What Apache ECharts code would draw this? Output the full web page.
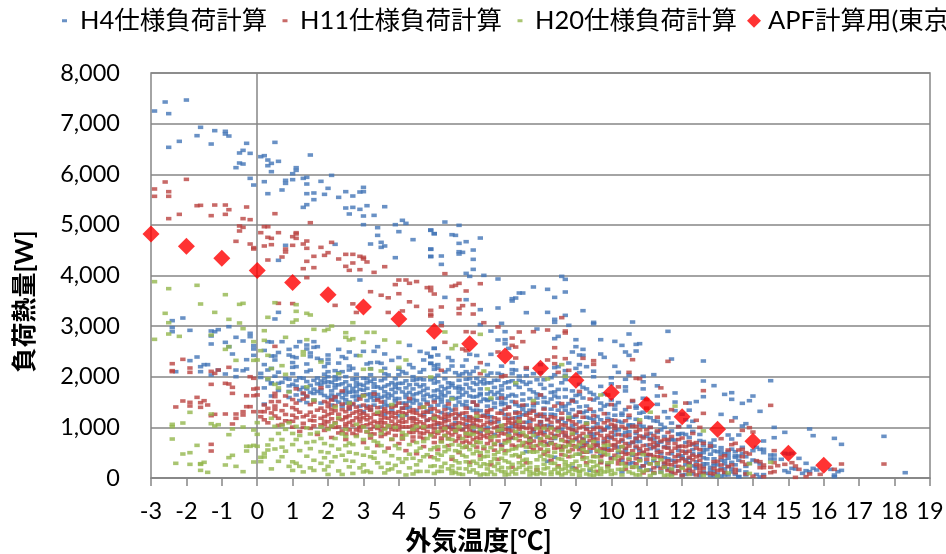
<!DOCTYPE html>
<html><head><meta charset="utf-8">
<script src="https://cdn.jsdelivr.net/npm/echarts@6/dist/echarts.min.js"></script>
<style>html,body{margin:0;padding:0;background:#fff}#c{width:946px;height:554px}</style></head>
<body><div id="c"></div>
<script>
const seriesNames=['H4仕様負荷計算','H11仕様負荷計算','H20仕様負荷計算','APF計算用(東京)'];
const xTickMin=-3, xTickMax=19, yTickMax=8000, yTickStep=1000;
const xAxisTitle='外気温度[℃]', yAxisTitle='負荷熱量[W]';
const apfPoints=[[-3,4820],[-2,4580],[-1,4340],[0,4100],[1,3860],[2,3620],[3,3380],[4,3140],[5,2900],[6,2650],[7,2410],[8,2170],[9,1930],[10,1690],[11,1450],[12,1210],[13,965],[14,725],[15,490],[16,250]];
const h4Points=[[-2.9,7249],[-2.6,7427],[-2.5,7197],[-2,7466],[-1.6,6927],[-1.7,6762],[-2.2,6650],[-2.5,6532],[-1.3,6597],[-1.2,6861],[-0.9,6848],[-0.9,6795],[-0.8,6755],[-0.3,6611],[-0.4,6472],[-0.5,6420],[-0.2,6413],[-0.5,6222],[-0.4,6202],[-0.6,6130],[-0.2,5919],[-0.1,5787],[0.5,6630],[0.2,6367],[0.1,6347],[0.3,6281],[0.4,6215],[0.6,6255],[0.3,6169],[0.4,6051],[1.1,6130],[1.1,6077],[1,6011],[1.5,6380],[1,5893],[0.8,5880],[0.8,5820],[0.2,5853],[0.7,5689],[0.3,5616],[1.3,5919],[1.4,5939],[1.4,5807],[2.1,5978],[1.8,5860],[2,5722],[2.5,5656],[2.9,5649],[3,5741],[3,5656],[2.7,5570],[2.3,5544],[1.9,5603],[1.6,5630],[1.4,5616],[1.6,5498],[1.4,5399],[1.3,5346],[2.5,5333],[2.7,5346],[2.9,5307],[3.1,5379],[3.6,5359],[2.6,5215],[3,5175],[3.3,5188],[3,5004],[3.4,4945],[3.9,5004],[4.1,5090],[4.2,5030],[4,4866],[3.4,4793],[3.2,4622],[3.5,4655],[3.5,4556],[3.6,4583],[4.4,4708],[4.9,4892],[5,4826],[4.9,4523],[4.9,4379],[3.9,4352],[2.2,4616],[0.8,4596],[0.6,4300],[2.9,3911],
[5.3,5056],[5.7,4991],[4.9,4900],[5,4826],[5.5,4806],[5.6,4793],[5.7,4635],[5.9,4668],[6.3,4740],[4.9,4517],[5.7,4470],[5.8,4457],[5.7,4424],[6.1,4503],[4.9,4372],[5.2,4385],[6.1,4319],[5.2,4220],[6.1,4121],[5.9,4042],[6,3983],[6.4,4003],[6.8,3931],[8.6,3983],[8.7,3924],[7.8,3773],[8.2,3727],[8.7,3674],[7.5,3654],[7.4,3654],[7.3,3555],[7.2,3542],[7.2,3496],[8.4,3568],[5.3,3568],[5.9,3522],[6.3,3325],[6.8,3358],[7.6,3266],[8.2,3272],[9.2,3305],[8.7,3213],[8.4,3134],[8.4,3075],[5.2,3062],[6.3,3029],[6.9,3055],[9.5,3075],[9.5,3048],[8.8,3016],[10.6,3081],[7.9,2943],[6.6,2903],[7,2890],[10.5,2844],[11.6,2897],[8.5,2798],[8.4,2752],[6.8,2726],[7,2732],[7,2653],[9,2732],[9.7,2732],[10.1,2699],[10.3,2620],[10.7,2640],[10.8,2653],[9,2594],[9.2,2541],[7.1,2561],[5,2561],[10.4,2489],[10.7,2508],[8.9,2489],[9.7,2449],[9.1,2429],[9.2,2423],[10.5,2423],[9.8,2383],[6,2443],[6.6,2443],[5.1,2429],[4.9,2397],[5.9,2331],[11.7,2350],[12.6,2311],[8.8,2271],[4.9,2265],[5.5,2318],[5.5,2212],[8.5,2199],[9.3,2199],[9,2166],[10.1,2206],[7.3,2133],[5,2219],[10.2,2087],[5.1,2166],[5.3,2094],[5.6,2080],[5.9,2100],[6.1,2107],[6.6,2074],[6.8,2068],[7.2,2061],[7.8,2061],[10.9,2008],[11.2,2041],[10.5,2034],[7.4,2015],[8.3,1982],[5.7,2031],[6,2054],[6.2,1965],
[-2.4,3108],[-2.1,3160],[-2.4,2970],[-2.4,2890],[-1.9,2917],[-1.3,2904],[-1.1,2930],[-1.2,2890],[-0.8,2989],[-1.3,2805],[-1.3,2647],[-0.2,2858],[-0.2,2792],[-0.6,2779],[-0.4,2706],[-0.9,2680],[-0.1,2614],[-0.1,2548],[-0.8,2594],[-0.7,2449],[-0.1,2423],[-0.3,2337],[-1.7,2390],[-1.9,2318],[-1.6,2199],[-1.5,2239],[-1.4,2239],[-1.6,2100],[-2.3,2100],[-1.1,2133],[-1.3,2035],[-0.6,2133],[-0.4,2120],[-0.3,2153],[-0.9,2054],[-0.6,2001],[0.1,2067],[0.3,2133],[0.4,2166],[0.5,3141],[0.6,3272],[0.3,2693],[0.4,2686],[0.7,2693],[1.2,2693],[1.6,2693],[1.4,2627],[1.6,2581],[1.7,2594],[0.9,2541],[1.1,2594],[1.4,2548],[2.3,2541],[3.4,2594],[3.3,2502],[2.6,2489],[3,2502],[0.9,2429],[1.1,2377],[1,2397],[0.5,2410],[0.4,2410],[0.5,2331],[1.5,2397],[1.7,2364],[2,2430],[2.4,2397],[2.5,2364],[2,2344],[1.8,2331],[2,2265],[1.4,2252],[1.4,2100],[1.1,2199],[1,2186],[2.6,2212],[2.7,2166],[2.6,2133],[3.2,2278],[3.4,2285],[3.5,2265],[3.8,2324],[3.1,2252],[3.6,2166],[4.4,2179],[4.7,2140],[5,2147],[4.8,2463],[4.9,2397],[5,2561],[4.9,2265],[4.7,2331],[2,2100],[2.2,2120],[2.4,2100],[2,2001],[2.2,2001],[2.5,2001],[3.7,2035],[4.1,2100],[4.2,2067],[4.4,2001],
[0.1,1985],[0.3,1940],[0.5,2011],[0.7,1890],[0.8,1965],[1,1850],[1.1,1925],[1.3,1790],[1.4,1905],[1.5,1830],[1.6,1755],[1.7,1975],[1.8,1670],[1.9,1885],[2,1810],[2.1,1720],[2.2,1935],[2.3,1650],[2.4,1860],[2.5,1775],[2.6,1695],[2.7,1950],[2.8,1815],[2.9,1610],[3,1735],[3.1,1880],[3.2,1660],[3.3,1795],[3.4,1575],[3.5,1925],[3.6,1705],[3.7,1840],[3.8,1630],[3.9,1520],[4,1765],[4.1,1870],[4.2,1590],[4.3,1690],[4.4,1480],[4.5,1945],[4.6,1805],[4.7,1545],[4.8,1655],[4.9,1420],[5,1875],[5.1,1740],[5.2,1500],[5.3,1625],[5.4,1380],[5.5,1825],[5.6,1570],[5.7,1690],[5.8,1445],[5.9,1950],[6,1780],[6.1,1335],[6.2,1610],[6.3,1510],[6.4,1860],[6.5,1240],[6.6,1705],[6.7,1395],[6.8,1575],[6.9,1820],[7,1470],[7.1,1180],[7.2,1650],[7.3,1305],[7.4,1930],[7.5,1540],[7.6,1100],[7.7,1745],[7.8,1425],[7.9,1255],[8,1850],[8.1,1590],[8.2,1040],[8.3,1360],[8.4,1700],[8.5,1480],[8.6,1160],[8.7,1945],[8.8,1275],[8.9,960],[9,1630],[9.1,1405],[9.2,1790],[9.3,1090],[9.4,870],[9.5,1540],[9.6,1215],[9.7,1350],[9.8,1660],[9.9,990],[10,790],[10.1,1440],[10.2,1120],[10.3,1280],[10.4,1720],[10.5,915],[10.6,700],[10.7,1380],[10.8,1045],[10.9,1575],[11,820],[11.1,1190],[11.2,620],[11.3,1455],[11.4,950],[11.5,1310],[11.6,740],[11.7,1085],[11.8,1680],[11.9,540],[12,1260],[12.1,860],[12.2,1020],[12.3,660],[12.4,1510],[12.5,450],
[0.6,1870],[0.9,1820],[1.2,1745],[1.5,1690],[1.8,1915],[2.1,1640],[2.4,1585],[2.7,1705],[3,1830],[3.3,1530],[3.6,1445],[3.9,1790],[4.2,1380],[4.5,1665],[4.8,1325],[5.1,1590],[5.4,1265],[5.7,1810],[6,1195],[6.3,1670],[6.6,1120],[6.9,1450],[7.2,1020],[7.5,1350],[7.8,905],[8.1,1260],[8.4,840],[8.7,1420],[9,760],[9.3,1320],[9.6,695],[9.9,1180],[10.2,610],[10.5,1030],[10.8,540],[11.1,880],[11.4,480],[11.7,760],[12,390],[12.3,1120],[12.6,640],[5.3,1420],[5.6,1180],[5.9,1060],[6.2,1340],[6.5,1550],[6.8,1010],[7.1,885],[7.4,1215],[7.7,780],[8,1115],[8.3,700],[8.6,960],[8.9,1535],[9.2,640],[9.5,870],[9.8,570],[10.1,930],[10.4,505],[10.7,790],[11,440],[11.3,650],[11.6,380],[11.9,870],[12.2,300],[12.5,740],[8.2,330],[8.9,210],[9.4,150],[9.9,260],[10.3,120],[10.8,205],[11.2,95],[11.7,160],[12.1,70],[12.4,225],[5.5,1000],[6.1,930],[6.9,660],[7.6,520],[8.4,410],[9.1,470],[9.7,320],[10.6,300],[11.5,220],
[12.6,1916],[12.9,1824],[13.2,1652],[13.4,1685],[13.4,1554],[12.6,1606],[13.7,1475],[13.9,1527],[14,1619],[14.5,1922],[14.2,1317],[13.1,1257],[13.5,1191],[13.7,1027],[13.8,1073],[14.6,1000],[14.9,902],[15.6,968],[15.7,836],[14.6,796],[16.3,783],[16.5,665],[17.7,823],[18.3,105],[14.3,731],[13.3,849],[13.6,849],[12.9,750],[13.4,770],[12.8,685],[12.8,606],[12.6,500],[12.9,533],[13.1,599],[13.1,533],[13.1,467],[13.3,520],[13.3,454],[13.5,520],[13.7,606],[13.7,487],[13.6,434],[13.5,408],[14,540],[14.1,606],[14.2,566],[14.3,566],[14.3,500],[14,355],[13.9,290],[14.1,322],[14.2,276],[14.5,454],[14.6,454],[14.5,375],[14.6,375],[14.8,369],[14.9,487],[15,474],[15.1,487],[15.3,388],[15.5,290],[15.7,191],[15.8,158],[15.4,92],[15.5,145],[15.6,125],[14.9,145],[15,112],[15.1,191],[15.2,178],[16.2,171],[16.3,59],[16.3,26],[16.4,125],[16.5,151],[14.1,70],[14.3,66],[14.2,20],[12.6,225],[12.8,150],[13,30],[13.6,25],[12.7,380],[12.9,290],[13.2,345],[13.4,180],[13.8,120]
];
// H4: further points by temperature column in the dense band
const h4Columns=[[0.2,[1780,1460]],[0.4,[1860,1620,1880]],[0.6,[1730]],[0.9,[1950,1590,1710]],[1.1,[1640,1815]],[1.2,[1980,1530]],[1.4,[1760,1600,1490]],[1.6,[1930,1670,1540]],[1.8,[1840,1480,1740]],[1.9,[1630,1960]],[2.1,[1890,1560,1440]],[2.2,[1780,1610]],[2.3,[1960,1500,1840]],[2.4,[1690,1420]],[2.5,[1900,1550,1640]],[2.6,[1830,1360,1500]],[2.7,[1610,1770,1450]],[2.8,[1960,1540,1700]],[2.9,[1850,1420,1750]],[3,[1640,1310,1970]],[3.1,[1530,1770,1420]],[3.2,[1910,1350,1590]],[3.3,[1700,1440,1860]],[3.4,[1800,1280,1650]],[3.5,[1590,1400,1770]],[3.6,[1960,1510,1260]],[3.7,[1660,1430,1580]],[3.8,[1880,1750,1340]],[3.9,[1690,1440,1960]],[4,[1570,1230,1870]],[4.1,[1700,1480,1380]],[4.2,[1920,1780,1240]],[4.3,[1840,1520,1400]],[4.4,[1640,1760,1180]],[4.5,[1530,1340,1850]],[4.6,[1960,1690,1460]],[4.7,[1840,1250,1620]],[4.8,[1770,1500,1140]],[4.9,[1940,1610,1300]],[5,[1720,1540,1200]],[5.1,[1900,1440,1060]],[5.2,[1810,1640,1290]],[5.3,[1960,1760,1150]],[5.4,[1690,1520,1020]],[5.5,[1590,1340,1870]],[5.6,[1780,1430,1090]],[5.7,[1930,1590,1260]],[5.8,[1760,1640,960]],[5.9,[1850,1510,1210]],[6,[1960,1620,1380]],[6.1,[1730,1500,1040]],[6.2,[1850,1430,1160]],[6.3,[1760,1330,920]],[6.4,[1940,1560,1240]],[6.5,[1660,1420,1000]],[6.6,[1880,1550,1210]],[6.7,[1790,1480,860]],[6.8,[1930,1690,1110]],[6.9,[1640,1330,940]],[7,[1880,1570,1250]],[7.1,[1780,1400,990]],[7.2,[1920,1510,790]],[7.3,[1620,1190,1080]],[7.4,[1790,1420,880]],[7.5,[1660,1250,1010]],[7.6,[1850,1440,1290]],[7.7,[1570,1120,720]],[7.8,[1700,1340,960]],[7.9,[1940,1480,810]],[8,[1640,1220,1050]],[8.1,[1770,1380,900]],[8.2,[1490,1160,680]],[8.3,[1830,1560,1020]],[8.4,[1620,1250,780]],[8.5,[1750,1340,950]],[8.6,[1880,1410,620]],[8.7,[1600,1090,840]],[8.8,[1470,1180,720]],[8.9,[1720,1350,1040]],[9,[1500,1210,890]],[9.1,[1850,1110,600]],[9.2,[1580,1290,780]],[9.3,[1420,980,700]],[9.4,[1690,1180,520]],[9.5,[1310,1000,810]],[9.6,[1580,1070,640]],[9.7,[1810,1150,450]],[9.8,[1420,950,720]],[9.9,[1270,1020,580]],[10,[1540,1150,400]],[10.1,[1240,850,640]],[10.2,[1490,950,500]],[10.3,[1100,730,350]],[10.4,[1350,900,570]],[10.5,[1190,680,280]],[10.6,[1510,1050,450]],[10.7,[1160,880,600]],[10.8,[1280,720,380]],[10.9,[1020,500,240]],[11,[1200,650,300]],[11.1,[1000,460,160]],[11.2,[1130,770,340]],[11.3,[900,550,230]],[11.4,[1060,710,120]],[11.5,[820,400,280]],[11.6,[1190,600,180]],[11.7,[930,480,80]],[11.8,[750,340,230]],[11.9,[1020,620,140]],[12,[880,440,60]],[12.1,[700,260,520]],[12.2,[800,390,150]],[12.3,[920,560,80]],[12.4,[650,320,190]],[12.5,[860,480,50]],[12.6,[400,120,720]],[12.7,[560,280,90]],[12.8,[470,210,50]],[12.9,[630,380,130]],[13,[520,260,80]],[13.1,[350,190,40]],[13.2,[480,110,280]],[13.3,[390,230,60]],[13.4,[570,310,120]],[13.5,[260,70,440]],[13.6,[350,150,30]],[13.8,[420,230,60]],
[1.3,[1970,1660]],[1.7,[1710,1860]],[2,[1590,1900]],[2.2,[1840,1540]],[2.5,[1480,1710]],[2.8,[1880,1620]],[3.1,[1960,1650]],[3.3,[1610,1950]],[3.6,[1810,1620]],[3.9,[1850,1570]],[4.2,[1650,1480]],[4.4,[1930,1560]],[4.7,[1730,1940]],[5,[1960,1630]],[5.2,[1560,1700]],[5.4,[1880,1790]],[5.7,[1500,1760]],[5.9,[1690,1430]],[6.1,[1880,1600]],[6.3,[1900,1640]],[6.5,[1880,1530]],[6.7,[1650,1930]],[6.9,[1500,1740]],[7.1,[1620,1900]],[7.3,[1840,1450]],[7.5,[1900,1420]],[7.7,[1890,1340]],[7.9,[1660,1580]],[8.1,[1940,1500]],[8.3,[1690,1260]],[8.5,[1590,1130]],[8.7,[1750,1340]],[8.9,[1550,1200]],[9.1,[1650,1300]],[9.3,[1760,1200]],[9.5,[1650,1150]],[9.7,[1480,930]],[9.9,[1450,800]],[10.1,[1020,1360]],[10.3,[1240,850]],[10.5,[1050,800]],[10.7,[1420,720]],[10.9,[1300,820]],[11.1,[780,580]],[11.3,[1120,700]],[11.5,[1000,620]],[11.7,[760,350]],[11.9,[860,430]],[12.1,[1150,360]],[12.3,[480,240]],[12.6,[560,280]],[12.9,[240,50]],[13.2,[180,60]],
[0.2,[2240,2520]],[0.6,[2090,2480]],[1,[2280,2060]],[1.5,[2130,2470]],[1.9,[2200,2050]],[2.3,[2270,2080]],[2.8,[2420,2050]],[3.2,[2160,2040]],[3.6,[2450,2060]],[4,[2380,2150,2040]],[4.3,[2240,2620]],[4.6,[2090,2500]],[5.1,[2240,2030]],[5.4,[2140,2380]],[5.8,[2210,2060]],[6.2,[2180,2420]],[6.5,[2240,2030]],[6.9,[2210,2040]],[7.2,[2280,2140]],[7.6,[2150,2020]],[8,[2240,2080]],[8.4,[2040,2180]],[8.7,[2120,2030]],[9.1,[2080,2240]],[9.5,[2000,2110]],[10,[1980,1860]],[10.4,[1950,1800]],[10.9,[1760,1900]],[11.3,[1820,1620]],[11.8,[1500,1330]],[12.2,[1340,1480]]];
const h11Points=[[-2.9,5709],[-2.9,5564],[-2.6,5847],[-2.5,5656],[-2.5,5564],[-2,5899],[-1.7,5379],[-1.6,5386],[-1.2,5392],[-0.9,5392],[-0.8,5300],[-0.3,5353],[-2.5,5123],[-2.2,5208],[-1.3,5182],[-0.9,5208],[-0.4,5123],[-0.2,5103],[0.5,5221],[1.5,5043],[-0.5,4978],[-0.4,4951],[-0.5,4879],[-0.6,4675],[-0.2,4622],[-0.1,4550],[-0.1,4523],[0.2,4964],[0.3,4964],[0.1,4846],[0.6,4846],[0.3,4754],[0.4,4734],[1.1,4846],[1.1,4820],[1,4767],[1.1,4734],[1.4,4681],[1.3,4622],[1,4596],[0.2,4583],[0.4,4609],[0.8,4523],[0.8,4464],[1.4,4537],[1.8,4556],[2.1,4655],[2,4451],[1.9,4398],[1.6,4379],[0.7,4365],[0.3,4306],[1.4,4280],[2.3,4326],[2.5,4418],[2.7,4418],[2.9,4379],[3,4359],[3,4326],[3.1,4267],[2.7,4247],[2.5,4181],[2.6,4102],[2.9,4115],[1.6,4155],[1.3,4135],[3.6,4174],[3.3,4062],[1.4,3957],[4,3911],[4.2,3911],
[4.3,3846],[4.5,3880],[3.9,3820],[4.8,3760],[4.9,3700],[4,3640],[3.7,3560],[4.3,3480],[4.5,3390],[4.1,3300],[3.2,3680],[3.5,3610],[2.7,3440],[2.2,3410],[1,3445],[3.7,3270],[2.8,3270],[4.9,3200],[5.3,4036],[6.3,3838],[5.7,3845],[5.6,3805],[5.5,3786],[4.9,3766],[5.9,3694],[5,3634],[5.7,3522],[5.8,3404],[5.7,3351],[6.1,3424],[5.2,3378],[4.9,3312],[4.9,3233],[5.7,3246],[6.1,3239],[6.4,3068],[6.8,2983],[5.2,3009],[8.6,3167],[5.9,2890],[6.1,2877],[7.4,2884],[7.8,2890],[8.2,2923],[8.7,2904],[8.7,2864],[7.2,2765],[7.5,2693],[5.3,2680],[7.2,2620],[7.3,2587],[8.4,2574],[5.8,2548],[5.9,2515],[6.8,2489],[7.3,2370],[8.4,2390],[8.7,2357],[9.2,2364],[8.2,2331],[9.5,2318],[9.5,2245],[10.6,2337],[11.6,2304],[6.3,2278],[8.4,2258],[7.6,2179],[8.8,2127],[5.2,2127],[8.5,2087],[10.5,2087],[6.3,2061],[7,2021],[6.9,2001],[10.7,1968],[10.8,1962],
[-2.3,1403],[-2.1,1521],[-1.9,1495],[-1.9,1422],[-1.7,1593],[-1.6,1488],[-1.6,1396],[-1.5,1527],[-1.4,1442],[-2.4,2258],[-2.4,2120],[-2.4,2100],[-2.1,2344],[-1.9,2173],[-1.9,2087],[-1.3,2107],[-1.2,2067],[-1.1,2133],[-0.8,2186],[-1.3,1850],[-0.9,1870],[-0.8,1857],[-0.7,1791],[-0.7,1672],[-0.3,1626],[-0.1,1626],[0,1640],[-0.1,1758],[0,1771],[-0.1,1969],[-0.2,2001],[-0.3,1409],[-0.2,1409],[-1.3,1231],[-1.2,1258],[-0.9,1264],[-0.6,1264],[-0.6,1179],[-0.4,1310],[-0.4,1244],[-0.7,1067],[-0.1,1310],[-1.3,665],[-1.3,533],[0.1,1310],[0.2,1442],[0.2,1310],[0.3,1376],[0.5,1672],[0.5,1607],[0.4,1508],[0.5,1422],[0.5,1356],[0.6,3450],[0.5,2600],
[0.1,1210],[0.2,1150],[0.3,1090],[0.4,1285],[0.5,1225],[0.6,1180],[0.7,1330],[0.7,1060],[0.8,1255],[0.9,1120],[1,1390],[1,1005],[1.1,1760],[1.1,1190],[1.2,1300],[1.2,920],[1.3,1080],[1.3,1680],[1.4,1240],[1.5,980],[1.5,1450],[1.6,1130],[1.7,860],[1.7,1340],[1.8,1050],[1.8,1780],[1.9,1215],[1.9,940],[2,1410],[2,1110],[2.1,800],[2.1,1280],[2.2,1000],[2.2,1600],[2.3,1170],[2.3,890],[2.4,1350],[2.4,1720],[2.5,1070],[2.5,760],[2.6,1230],[2.6,950],[2.7,1470],[2.7,1130],[2.8,850],[2.8,1310],[2.9,1020],[2.9,1560],[3,1190],[3,700],[3.1,910],[3.1,1380],[3.2,1080],[3.2,790],[3.3,1260],[3.3,1660],[3.4,980],[3.4,640],[3.5,1150],[3.5,1500],[3.6,860],[3.6,1320],[3.7,1040],[3.7,590],[3.8,1220],[3.8,760],[3.9,950],[3.9,1420],[4,1120],[4,680],[4.1,1290],[4.1,840],[4.2,1010],[4.2,540],[4.3,1180],[4.3,1570],[4.4,900],[4.4,730],[4.5,1070],[4.5,480],[4.6,1240],[4.6,810],[4.7,980],[4.7,620],[4.8,1140],[4.8,1460],[4.9,870],[4.9,420],[5,1050],[5,700],[5.1,1210],[5.1,560],[5.2,930],[5.2,790],[5.3,1110],[5.3,1350],[5.4,640],[5.4,1000],[5.5,850],[5.5,370],[5.6,1170],[5.6,730],[5.7,960],[5.7,500],[5.8,1280],[5.8,1070],[5.9,820],[5.9,610],[6,1130],[6,310],[6.1,900],[6.1,1500],[6.2,700],[6.2,1040],[6.3,1220],[6.3,440],[6.4,950],[6.4,580],[6.5,1100],[6.5,800],[6.6,260],[6.6,1350],[6.7,990],[6.7,660],[6.8,1160],[6.8,370],[6.9,880],[6.9,1580],[7,1050],[7,540],[7.1,760],[7.1,1260],[7.2,210],[7.2,930],[7.3,1120],[7.3,620],[7.4,830],[7.4,420],[7.5,1000],[7.5,1440],[7.6,700],[7.6,300],[7.7,1180],[7.7,900],[7.8,560],[7.8,1320],[7.9,1040],[7.9,160],[8,770],[8,1640],[8.1,1210],[8.1,470],[8.2,950],[8.2,650],[8.3,1100],[8.3,350],[8.4,820],[8.4,1420],[8.5,1000],[8.5,240],[8.6,560],[8.6,1280],[8.7,900],[8.7,720],[8.8,1150],[8.8,420],[8.9,1520],[8.9,640],[9,1060],[9,190],[9.1,830],[9.1,1710],[9.2,510],[9.2,1200],[9.3,960],[9.3,300],[9.4,740],[9.4,1360],[9.5,1100],[9.5,590],[9.6,880],[9.6,130],[9.7,1000],[9.7,420],[9.8,690],[9.8,1270],[9.9,1640],[9.9,240],[10,900],[10,550],[10.1,1140],[10.1,760],[10.2,350],[10.2,1800],[10.3,1020],[10.3,620],[10.4,830],[10.4,170],[10.5,1240],[10.5,480],[10.6,710],[10.6,1530],[10.7,920],[10.7,280],[10.8,1100],[10.8,580],[10.9,790],[10.9,100],[11,1380],[11,370],[11.1,660],[11.1,1000],[11.2,840],[11.2,200],[11.3,510],[11.3,1200],[11.4,730],[11.4,1780],[11.5,310],[11.5,1630],[11.6,900],[11.6,590],[11.7,120],[11.7,1350],[11.8,680],[11.8,420],[11.9,1010],[11.9,230],[12,790],[12,530],[12.1,1480],[12.1,330],[12.2,650],[12.2,90],[12.3,880],[12.3,450],[12.4,1140],[12.4,260],[12.5,560],[12.5,1000],
[1,1550],[1.4,1620],[1.9,1510],[2.6,1430],[3,1630],[3.4,1540],[4,1480],[4.7,1400],[5,1500],[5.4,1460],[5.9,1380],[6.2,1440],[6.5,1330],[7,1360],[7.3,1500],[7.8,1480],[8.1,1360],[8.6,1470],[9.1,1300],[9.4,1560],[10,1450],[10.5,1400],[11,1550],[3.5,820],[3.9,1060],[4.4,1120],[4.6,1000],[5,900],[5.2,1080],[5.7,780],[6,1030],[6.3,860],[6.6,740],[7,960],[7.4,1090],[7.7,680],[8,880],[8.4,590],[8.8,800],[9.2,690],[9.6,770],[10,1060],[10.4,680],[10.8,830],[11.2,700],[11.6,760],[12,630],[12.4,700],[8.6,1050],[7.2,1080],[6.1,1180],[5.4,1220],[4.4,1290],[3.6,1190],[2.9,1250],[8,1000],[9,930],[9.9,840],
[12.6,1725],[12.6,1277],[14.5,1435],[13.4,1126],[13.9,994],[13.7,941],[14,908],[13.1,777],[13.5,685],[13.4,658],[12.6,685],[12.8,632],[14.6,540],[13.6,553],[13.7,566],[13.3,553],[13.8,500],[13.9,474],[13.1,408],[13.7,421],[13.7,322],[14.1,342],[14.2,322],[14.6,303],[14.7,243],[15.1,303],[14.9,270],[15.2,237],[15.3,171],[16.5,276],[16.3,171],[17.7,276],[15.9,72],[15.6,79],[15.5,26],[15.2,13],[14.5,211],[14.5,105],[14.6,125],[14.3,257],[14.3,204],[14.2,204],[14.3,26],[14,39],[13.5,171],[13.5,105],[13.4,257],[13.3,224],[13.1,257],[13.1,158],[12.9,191],[12.9,79],[12.8,92],[12.6,191],[12.6,92],[12.9,322]
];
// H11: further points by temperature column in the dense band
const h11Columns=[[0.6,[1510,1040]],[0.8,[1440,1130,1620]],[1,[1240,1120]],[1.1,[1480,1350]],[1.3,[1210,1560,1000]],[1.5,[1300,1140]],[1.6,[1500,1220,1030]],[1.8,[1380,1180]],[1.9,[1120,1320,1050]],[2,[1250,1480,980]],[2.1,[1170,1540]],[2.2,[1330,1090,1430]],[2.3,[1260,1010]],[2.4,[1150,1460,930]],[2.5,[1310,1190,1020]],[2.6,[1100,1380]],[2.7,[1280,1040,880]],[2.8,[1190,1400,950]],[2.9,[1110,1330,1000]],[3,[1280,1030,1440]],[3.1,[1150,1050,1240]],[3.2,[1340,960,1190]],[3.3,[1120,1020,870]],[3.4,[1260,1090,1390]],[3.5,[1020,930,1230]],[3.6,[1090,980,1370]],[3.7,[1180,1290,890]],[3.8,[1030,1120,1400]],[3.9,[1190,1280,840]],[4,[1030,950,1310]],[4.1,[1100,1180,770]],[4.2,[1270,1110,1440]],[4.3,[1010,900,1320]],[4.4,[1190,1040,810]],[4.5,[1280,940,1160]],[4.6,[1110,1390,890]],[4.7,[1210,1070,780]],[4.8,[1020,920,1300]],[4.9,[1170,1030,1360]],[5,[1240,970,810]],[5.1,[1090,1320,880]],[5.2,[1180,1000,730]],[5.3,[1020,950,1260]],[5.4,[1140,890,780]],[5.5,[1250,1060,960]],[5.6,[1050,900,1360]],[5.7,[1230,1090,830]],[5.8,[1170,950,700]],[5.9,[1010,1290,890]],[6,[1210,950,830,690]],[6.1,[1100,1020,760]],[6.2,[1280,900,610]],[6.3,[1130,1010,780]],[6.4,[1220,1050,830]],[6.5,[1300,950,680]],[6.6,[1070,900,820]],[6.7,[1190,1100,550]],[6.8,[1020,920,730]],[6.9,[1280,1030,640]],[7,[1180,870,740]],[7.1,[1090,950,1400]],[7.2,[1180,800,650]],[7.3,[1020,870,1280]],[7.4,[1170,960,740]],[7.5,[1100,850,640]],[7.6,[1240,980,820]],[7.7,[1050,790,610]],[7.8,[1150,960,730]],[7.9,[1220,870,640]],[8,[1110,930,570]],[8.1,[1030,850,720]],[8.2,[1150,800,520]],[8.3,[1000,880,690]],[8.4,[1190,950,660]],[8.5,[1110,840,600]],[8.6,[900,760,460]],[8.7,[1040,830,620]],[8.8,[980,700,520]],[8.9,[1110,860,750]],[9,[1240,790,630]],[9.1,[990,710,560]],[9.2,[880,760,410]],[9.3,[1060,650,510]],[9.4,[910,820,590]],[9.5,[1230,760,430]],[9.6,[1000,650,520]],[9.7,[840,580,300]],[9.8,[950,780,460]],[9.9,[1130,720,540]],[10,[810,650,380]],[10.1,[980,590,450]],[10.2,[860,710,280]],[10.3,[760,510,400]],[10.4,[980,590,290]],[10.5,[850,630,360]],[10.6,[1020,540,210]],[10.7,[780,630,460]],[10.8,[950,480,350]],[10.9,[640,510,240]],[11,[870,560,150]],[11.1,[760,460,280]],[11.2,[600,430,110]],[11.3,[800,640,300]],[11.4,[520,410,190]],[11.5,[760,600,230]],[11.6,[480,340,150]],[11.7,[820,530,260]],[11.8,[590,310,90]],[11.9,[760,460,140]],[12,[380,210,50]],[12.1,[620,490,150]],[12.2,[530,290,190]],[12.3,[360,130,680]],[12.4,[590,420,60]],[12.5,[350,180,110]],[13,[330,150]],[13.2,[440,110]],[13.8,[270,80]],
[2.1,[1020,1360]],[2.5,[1210,870]],[2.9,[1170,930]],[3.2,[1410,870]],[3.5,[1300,1090]],[3.8,[960,1290]],[4.1,[1010,1380]],[4.4,[1350,960]],[4.7,[1300,880]],[5,[1130,1370]],[5.3,[1200,840]],[5.6,[1280,960]],[5.9,[1140,730]],[6.2,[1140,800]],[6.5,[1190,880]],[6.8,[1280,830]],[7.1,[1150,830]],[7.4,[1290,1020]],[7.7,[1280,990]],[8,[1260,700]],[8.3,[1210,780]],[8.6,[1180,630]],[8.9,[950,560]],[9.2,[1020,600]],[9.5,[960,660]],[9.8,[1090,580]],[10.1,[1040,660]],[10.4,[1130,470]],[10.7,[1020,380]],[11,[950,470]],[11.3,[930,420]],[11.6,[680,270]],[11.9,[620,340]],[12.2,[720,410]],[12.5,[440,250]]];
const h20Points=[[5.3,2884],[6.3,2838],[5.6,2620],[5.5,2555],[8.6,2239],[6.4,2113],[8.7,2008],[4.9,1995],[8.2,1955],
[-2.9,3878],[-2.5,3740],[-1.7,3806],[-0.9,3621],[-1.6,3437],[-0.5,3430],[-0.4,3450],[0.5,3463],[1.1,3424],[1.1,3292],[-2.6,3253],[-1.2,3272],[1.4,3253],[1.5,3220],[0.3,3174],[-0.8,3134],[1.1,3121],[1,3075],[-2.5,3068],[-0.5,3062],[2.7,3068],[2.1,3002],[-0.4,2950],[0.2,2910],[1.6,2937],[2,2937],[1.9,2910],[2.5,2871],[3.1,2877],[3.3,2877],[-2.5,2844],[-2.2,2798],[-1.3,2825],[-2.9,2739],[2.5,2779],[2.7,2752],[2.6,2726],[3.6,2726],[4,2680],[3,2680],[0.8,2779],[0.2,2719],[-0.1,2693],[1.4,2732],[-0.9,2541],[-0.8,2594],[0.1,2515],[1.3,2495],[1.3,2429],[0.3,2423],[-0.1,2324],[0,2331],[-0.6,2324],[2.9,2416],[1.8,2291],[4.2,2331],[0.7,2219],[0.4,2160],[3,2147],[3.2,2153],[4,2186],[3.5,2114],[0.8,2048],[2.3,2061],
[-1.9,1297],[-1.3,1264],[-2.1,1086],[-2.4,1060],[-2.4,1014],[-2.4,770],[-1.7,645],[-1.3,1073],[-1.2,1027],[-1.1,1053],[-0.8,856],[-0.7,968],[-0.4,1007],[0,1093],[-0.1,948],[0,863],[-2.1,474],[-1.9,500],[-2.3,290],[-1.9,270],[-1.6,283],[-1.5,310],[-1.6,270],[-0.9,257],[-0.8,402],[-0.7,448],[-0.6,230],[-0.3,533],[-0.3,626],[-0.2,626],[-0.1,645],[0,626],[-1.6,151],[-1.4,112],[-0.4,125],[-0.1,316],[0.1,323],[0.1,408],[0.2,415],[0.2,487],[0.3,553],[0.3,652],[0.5,573],
[0.3,1960],[0.5,1850],[0.6,1780],[0.4,1180],[0.5,1020],[0.6,880],[0.7,760],[0.8,960],[0.9,1090],[0.6,330],[0.7,420],[0.8,530],[0.9,230],[1,660],[1.1,1020],[1.2,840],[1.3,120],[1.4,1800],[1.4,430],[1.5,580],[1.6,720],[1.7,900],[1.8,1010],[1.8,290],[1.9,160],[2,500],[2.1,640],[2.2,780],[2.3,1190],[2.4,70],[2.5,350],[2.5,960],[2.6,510],[2.7,660],[2.8,820],[2.9,200],[3,450],[3,1620],[3.1,590],[3.2,110],[3.3,730],[3.4,300],[3.5,880],[3.6,520],[3.7,1030],[3.8,180],[3.9,640],[4,380],[4.1,790],[4.2,60],[4.3,470],[4.4,960],[4.5,260],[4.6,590],[4.7,720],[4.7,1400],[4.8,130],[4.9,840],[5,400],[5,1180],[5.1,620],[5.2,220],[5.3,520],[5.4,770],[5.5,90],[5.6,340],[5.7,1010],[5.7,650],[5.8,450],[5.9,180],[6,560],[6.1,860],[6.2,290],[6.2,1220],[6.3,700],[6.4,420],[6.5,70],[6.6,600],[6.7,230],[6.8,510],[6.9,960],[7,340],[7.1,720],[7.2,120],[7.3,580],[7.4,430],[7.4,1120],[7.5,250],[7.6,830],[7.7,60],[7.8,510],[7.9,360],[8,670],[8.1,180],[8.1,980],[8.2,440],[8.3,290],[8.4,800],[8.5,90],[8.6,540],[8.6,370],[8.7,190],[8.8,650],[8.9,280],[9,470],[9.1,120],[9.2,560],[9.3,1080],[9.4,330],[9.5,220],[9.6,420],[9.7,70],[9.8,500],[9.9,300],[10,150],[10.2,430],[10.4,230],[10.6,90],[10.8,340],[11,160],[11.3,280],[11.6,60],[12,190],[12.6,50],[13,40],[13.9,90],[13.3,100],[14.5,310],[12.6,930],[13.9,280],[11.1,1300],[11.8,1420],[10.8,1150],[9.7,1640],[6.6,1580],[7.8,1530],[8.8,1200],[4.1,1230],[3.4,1300],[2.2,1400],[5.5,1560],[7.3,1880],[6.5,1760],[0.9,1700],[1.6,1540],[2.6,1480],[3.8,1450]
];
// H20: further points by temperature column in the dense band
const h20Columns=[[0.4,[760,180]],[0.7,[1040,610]],[1,[880,320,150]],[1.2,[540,230]],[1.4,[990,700]],[1.6,[350,150]],[1.8,[780,520]],[2,[960,230,70]],[2.2,[420,1080]],[2.3,[570,140]],[2.5,[820,640]],[2.7,[330,90]],[2.8,[1060,480]],[3,[760,260]],[3.1,[140,920]],[3.3,[510,390]],[3.5,[640,210]],[3.6,[960,100]],[3.8,[440,770]],[4,[580,120]],[4.1,[900,310]],[4.3,[660,200]],[4.4,[390,80]],[4.5,[1020,530]],[4.6,[340,130]],[4.8,[780,460]],[5,[600,240,90]],[5.1,[920,360]],[5.2,[710,450,130]],[5.3,[290,840]],[5.4,[560,180]],[5.5,[660,420,240]],[5.6,[930,110,540]],[5.7,[300,190]],[5.8,[780,600,70]],[5.9,[420,320]],[6,[870,250,120]],[6.1,[640,480,160]],[6.2,[720,100,530]],[6.3,[960,370,230]],[6.4,[620,280,80]],[6.5,[520,430,180]],[6.6,[800,320,120]],[6.7,[680,460,70]],[6.8,[940,290,160]],[6.9,[570,390,210]],[7,[690,480,120,60]],[7.1,[840,310,200]],[7.2,[570,440,270]],[7.3,[780,170,80]],[7.4,[640,300,210]],[7.5,[900,490,110]],[7.6,[610,370,170]],[7.7,[740,300,130]],[7.8,[840,630,90]],[7.9,[520,220,150]],[8,[780,430,100]],[8.1,[640,360,80]],[8.2,[820,560,200]],[8.3,[680,430,120]],[8.4,[510,290,170]],[8.5,[640,380,210]],[8.6,[740,170,60]],[8.7,[450,320,90]],[8.8,[530,240,130]],[8.9,[720,430,70]],[9,[610,330,150]],[9.1,[470,240,50]],[9.2,[720,370,160]],[9.3,[520,250,80]],[9.4,[630,180,60]],[9.5,[420,130,320]],[9.6,[550,250,80]],[9.7,[340,190]],[9.8,[640,120]],[9.9,[460,200]],[10,[310,70]],[10.2,[540,170]],[10.3,[280,60]],[10.5,[390,120]],[10.7,[220,60]],[10.9,[460,130]],[11.1,[280,50]],[11.4,[360,110]],[11.7,[180,40]],[12.2,[240,70]],
[1.1,[760,290]],[1.5,[870,200]],[1.9,[680,400]],[2.1,[1030,320]],[2.4,[870,450]],[2.6,[220,690]],[3,[1010,120]],[3.2,[420,840]],[3.4,[700,1020]],[3.7,[290,160]],[3.9,[1000,250]],[4.2,[850,380]],[4.5,[700,130]],[4.7,[420,1010]],[4.9,[230,560]],[5.1,[480,130]],[5.3,[980,620]],[5.5,[760,150]],[5.7,[520,80]],[5.9,[880,630]],[6.1,[1000,330]],[6.3,[500,60]],[6.5,[920,260]],[6.7,[820,380]],[6.9,[1040,130]],[7.1,[540,70]],[7.3,[920,460]],[7.5,[700,350]],[7.7,[520,210]],[7.9,[980,70]],[8.1,[520,270]],[8.3,[980,70]],[8.5,[920,110]],[8.7,[620,260]],[8.9,[880,170]],[9.1,[660,130]],[9.3,[820,400]],[9.5,[720,50]],[9.7,[520,140]],[9.9,[130,650]],[10.1,[380,90]],[10.3,[620,170]],[10.6,[480,220]],[10.8,[150,60]],[11.2,[380,90]],[11.5,[210,50]]];
const flat=cols=>cols.flatMap(([t,vals])=>vals.map(v=>[t,v]));
const markerSize=[5.4,3.6];
const series=[
 {name:seriesNames[0],type:'scatter',data:h4Points.concat(flat(h4Columns)),symbol:'rect',symbolSize:markerSize,itemStyle:{color:'#4376b6'},
  markLine:{silent:true,symbol:'none',z:1,animation:false,label:{show:false},lineStyle:{color:'#868686',width:1.5,type:'solid'},data:[{xAxis:0}]}},
 {name:seriesNames[1],type:'scatter',data:h11Points.concat(flat(h11Columns)),symbol:'rect',symbolSize:markerSize,itemStyle:{color:'#ba4441'}},
 {name:seriesNames[2],type:'scatter',data:h20Points.concat(flat(h20Columns)),symbol:'rect',symbolSize:markerSize,itemStyle:{color:'#94b64e'}},
 {name:seriesNames[3],type:'scatter',data:apfPoints,symbol:'diamond',symbolSize:17,itemStyle:{color:'#ff0000'},z:5}
];
const latin='Lato,"Noto Sans CJK JP",sans-serif';
function leg(i,left,icon,w,h,pad){return {show:true,data:[seriesNames[i]],left:left,top:8,icon:icon,itemWidth:w,itemHeight:h,itemGap:0,padding:0,textStyle:{fontFamily:latin,fontSize:25.5,color:'#000',padding:[0,0,0,pad]},selectedMode:false};}
const chart=echarts.init(document.getElementById('c'),null,{renderer:'canvas'});
chart.setOption({
 animation:false,backgroundColor:'#fff',
 legend:[leg(0,62,'rect',5,3,8),leg(1,282.5,'rect',5,3,7.5),leg(2,517.5,'rect',5,3,7.5),leg(3,747,'diamond',14,14,2)],
 grid:{left:151,right:16,top:73,bottom:76,outerBoundsMode:'none',show:true,borderColor:'#868686',borderWidth:1.5,backgroundColor:'transparent'},
 xAxis:{type:'value',min:xTickMin,max:xTickMax,interval:1,name:xAxisTitle,nameLocation:'middle',nameGap:50,
  nameTextStyle:{fontFamily:latin,fontSize:26,fontWeight:'bold',color:'#000',padding:[0,124,0,0]},
  axisLine:{onZero:false,lineStyle:{color:'#868686',width:1.5}},axisTick:{show:true,length:8,lineStyle:{color:'#868686',width:1.5}},
  axisLabel:{fontFamily:latin,fontSize:23.5,color:'#000',margin:22},splitLine:{show:false}},
 yAxis:{type:'value',min:0,max:yTickMax,interval:yTickStep,name:yAxisTitle,nameLocation:'middle',nameGap:114,nameRotate:90,
  nameTextStyle:{fontFamily:latin,fontSize:25,fontWeight:'bold',color:'#000',padding:[0,52,0,0]},
  axisLine:{show:false},axisTick:{show:false},
  axisLabel:{fontFamily:latin,fontSize:23.5,color:'#000',margin:31,formatter:v=>v.toLocaleString('en-US')},
  splitLine:{show:true,lineStyle:{color:'#868686',width:1.5}}},
 series:series
});
</script></body></html>
